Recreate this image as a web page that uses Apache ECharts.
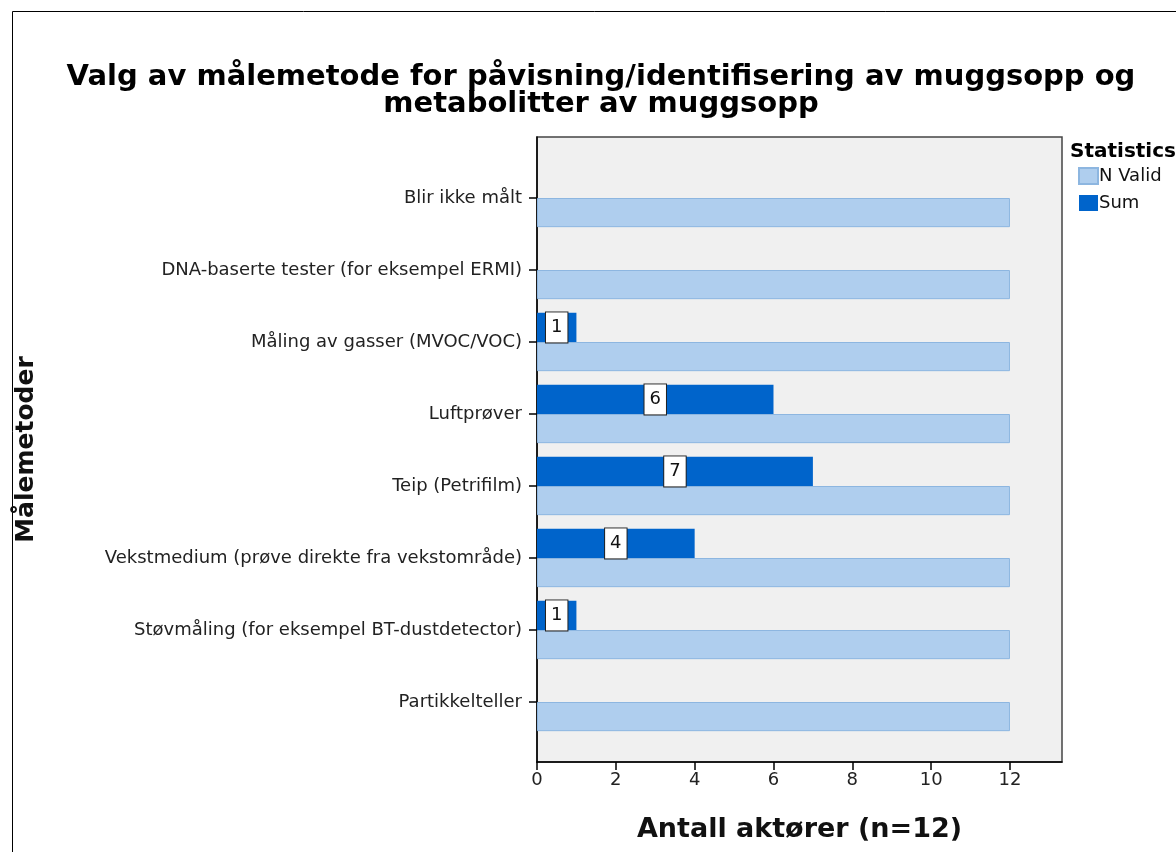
<!DOCTYPE html>
<html><head><meta charset="utf-8">
<script src="https://cdn.jsdelivr.net/npm/echarts@6/dist/echarts.min.js"></script>
<style>html,body{margin:0;padding:0;background:#fff}#c{width:1176px;height:852px}</style>
</head><body><div id="c"></div>
<script>
const categories = [
  'Blir ikke målt',
  'DNA-baserte tester (for eksempel ERMI)',
  'Måling av gasser (MVOC/VOC)',
  'Luftprøver',
  'Teip (Petrifilm)',
  'Vekstmedium (prøve direkte fra vekstområde)',
  'Støvmåling (for eksempel BT-dustdetector)',
  'Partikkelteller'
];
const nValid = [12, 12, 12, 12, 12, 12, 12, 12];
const sumValues = [0, 0, 1, 6, 7, 4, 1, 0];
const xTicks = [0, 2, 4, 6, 8, 10, 12];
const seriesNames = ['N Valid', 'Sum'];

const FONT = 'DejaVu Sans';
const chart = echarts.init(document.getElementById('c'), null, {renderer: 'canvas'});
const xMax = 13.32;

chart.setOption({
  animation: false,
  backgroundColor: '#fff',
  textStyle: {fontFamily: FONT},
  title: [
    {
      text: 'Valg av målemetode for påvisning/identifisering av muggsopp og\nmetabolitter av muggsopp',
      left: 596, top: 59, textAlign: 'center',
      textStyle: {fontFamily: FONT, fontSize: 29, fontWeight: 'bold', color: '#000', lineHeight: 27}
    },
    {
      text: 'Statistics', left: 1065, top: 137,
      textStyle: {fontFamily: FONT, fontSize: 20, fontWeight: 'bold', color: '#000'}
    }
  ],
  legend: {
    data: seriesNames,
    orient: 'vertical', left: 1073, top: 162,
    itemWidth: 19, itemHeight: 16, itemGap: 9,
    icon: 'rect',
    textStyle: {fontFamily: FONT, fontSize: 18, color: '#111', padding: [0, 0, 0, -4]}
  },
  graphic: [
    {type: 'polyline', shape: {points: [[12.5, 852], [12.5, 11.5], [1176, 11.5]]}, style: {stroke: '#000', lineWidth: 1, fill: null}}
  ],
  grid: [
    {left: 537, right: 114, top: 162, bottom: 114, show: false},
    {left: 537, right: 114, top: 137, bottom: 90, show: true, backgroundColor: '#F0F0F0', borderColor: '#444', borderWidth: 1.5}
  ],
  xAxis: [
    {gridIndex: 0, type: 'value', min: 0, max: xMax, show: false},
    {gridIndex: 1, type: 'value', min: 0, max: xMax, interval: 2, z: 5,
      axisLine: {show: true, onZero: false, lineStyle: {color: '#000', width: 1.5}},
      axisTick: {show: true, inside: false, length: 8, customValues: xTicks, lineStyle: {color: '#000', width: 1.5}},
      axisLabel: {customValues: xTicks, fontFamily: FONT, fontSize: 18, color: '#222', margin: 9},
      splitLine: {show: false},
      name: 'Antall aktører (n=12)', nameLocation: 'middle', nameGap: 54,
      nameTextStyle: {fontFamily: FONT, fontSize: 27, fontWeight: 'bold', color: '#111'}
    }
  ],
  yAxis: [
    {gridIndex: 0, type: 'category', data: categories, inverse: true,
      axisLine: {show: false},
      axisTick: {show: true, alignWithLabel: true, length: 8, lineStyle: {color: '#000', width: 1.5}},
      axisLabel: {fontFamily: FONT, fontSize: 18, color: '#222', margin: 15}
    },
    {gridIndex: 1, type: 'value', min: 0, max: 1, show: true,
      axisLine: {show: true, lineStyle: {color: '#000', width: 1.5}},
      axisTick: {show: false}, axisLabel: {show: false}, splitLine: {show: false},
      name: 'Målemetoder', nameLocation: 'middle', nameGap: 498, nameRotate: 90,
      nameTextStyle: {fontFamily: FONT, fontSize: 25, fontWeight: 'bold', color: '#111'}
    }
  ],
  series: [
    {
      name: seriesNames[1], type: 'bar', xAxisIndex: 0, yAxisIndex: 0,
      data: sumValues.map(v => ({value: v, label: {show: v > 0}})),
      barGap: '0%', barCategoryGap: '19%',
      itemStyle: {color: '#0064CB', borderColor: '#0064CB', borderWidth: 0},
      label: {
        show: true, position: 'inside', color: '#111', fontFamily: FONT, fontSize: 18,
        backgroundColor: '#fff', borderColor: '#222', borderWidth: 1, padding: [7, 5, 5, 5]
      }
    },
    {
      name: seriesNames[0], type: 'bar', xAxisIndex: 0, yAxisIndex: 0,
      data: nValid, barGap: '0%', barCategoryGap: '19%',
      itemStyle: {color: '#AFCEEE', borderColor: '#8DB6E0', borderWidth: 1}
    }
  ]
});
</script></body></html>
